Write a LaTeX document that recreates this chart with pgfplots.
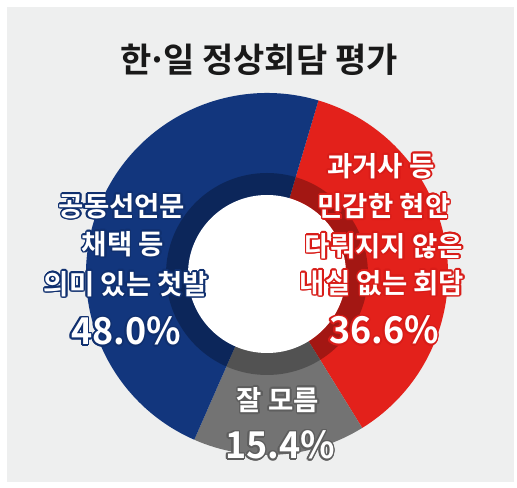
\documentclass[border=0pt]{standalone}
\usepackage{pgfplots}
\pgfplotsset{compat=1.18}
\usepackage{pgfplotstable}
\usepackage{graphicx}
\usepackage{fontspec}
\usetikzlibrary{calc}
\newfontfamily\kr{Noto Sans CJK KR}
\newfontfamily\krb{Noto Sans CJK KR Bold}
\definecolor{bg}{HTML}{EEEFEF}
\definecolor{cblue}{HTML}{12367D}
\definecolor{cred}{HTML}{E3211B}
\definecolor{cgray}{HTML}{737373}
\definecolor{oblue}{HTML}{10306F}
\definecolor{ored}{HTML}{D81C18}
\definecolor{ogray}{HTML}{5E5E5E}

\pgfplotstableread{
name value
red 36.6
gray 15.4
blue 48.0
}\donutdata

% #1 x, #2 y, #3 outline colour, #4 content
\newcommand\olab[4]{%
  \foreach \a in {0,22.5,...,337.5}{\node[text=#3,inner sep=0pt] at ($(#1bp,#2bp)+(\a:1.6bp)$) {#4};}
  \node[text=white,inner sep=0pt] at (#1bp,#2bp) {#4};
}
\newcommand\lf{\krb\fontsize{27.5bp}{30bp}\selectfont}
\newcommand\pf{\krb\fontsize{37bp}{40bp}\selectfont}

\begin{document}
\begin{tikzpicture}
\pgfplotstablegetelem{0}{value}\of\donutdata \pgfmathsetmacro\vA{\pgfplotsretval}
\pgfplotstablegetelem{1}{value}\of\donutdata \pgfmathsetmacro\vB{\pgfplotsretval}
\pgfplotstablegetelem{2}{value}\of\donutdata \pgfmathsetmacro\vC{\pgfplotsretval}
\pgfmathsetmacro\aO{73.5}
\pgfmathsetmacro\aI{\aO-3.6*\vA}
\pgfmathsetmacro\aII{\aI-3.6*\vB}
\pgfmathsetmacro\aIII{\aII-3.6*\vC}
\path[use as bounding box] (0,0) rectangle (517bp,488bp);
\fill[white] (0,0) rectangle (517bp,488bp);
\fill[bg] (7bp,6bp) rectangle (514bp,481bp);
\begin{axis}[at={(0,0)},anchor=south west,scale only axis,width=517bp,height=488bp,
  xmin=0,xmax=517,ymin=0,ymax=488,hide axis,clip=false]
\fill[cred] (axis cs:267,214) -- ++(\aO:181bp) arc[start angle=\aO, end angle=\aI, radius=181bp] -- cycle;
\fill[cgray] (axis cs:267,214) -- ++(\aI:181bp) arc[start angle=\aI, end angle=\aII, radius=181bp] -- cycle;
\fill[cblue] (axis cs:267,214) -- ++(\aII:181bp) arc[start angle=\aII, end angle=\aIII, radius=181bp] -- cycle;
\fill[black,opacity=0.28,even odd rule] (axis cs:267,214) circle[radius=101bp] (axis cs:267,214) circle[radius=79bp];
\fill[white] (axis cs:267,214) circle[radius=79bp];
\end{axis}
\node[text=black!90,inner sep=0pt] at (259bp,428bp) {\krb\fontsize{34bp}{36bp}\selectfont 한\kern-0.12em·\kern-0.12em일 정상회담 평가};
\olab{122}{282}{oblue}{\lf 공동선언문}
\olab{123}{244}{oblue}{\lf 채택 등}
\olab{126}{204}{oblue}{\lf 의미 있는 첫발}
\olab{126}{157}{oblue}{\pf\scalebox{0.97}[1]{48.0\%}}
\olab{381}{322}{ored}{\lf 과거사 등}
\olab{384}{282}{ored}{\lf 민감한 현안}
\olab{384}{242}{ored}{\lf 다뤄지지 않은}
\olab{382}{205}{ored}{\lf 내실 없는 회담}
\olab{384}{158}{ored}{\pf\scalebox{0.97}[1]{36.6\%}}
\olab{278}{88}{ogray}{\lf 잘 모름}
\olab{280}{43}{ogray}{\pf\scalebox{0.97}[1]{15.4\%}}
\end{tikzpicture}
\end{document}
